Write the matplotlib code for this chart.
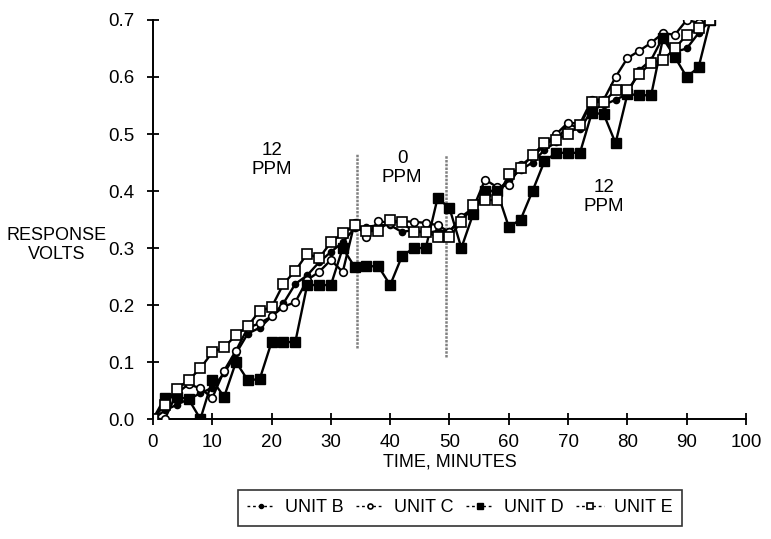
import matplotlib
matplotlib.use("Agg")
import matplotlib.pyplot as plt
from matplotlib.lines import Line2D

plt.rcParams['font.family'] = ['Liberation Sans', 'DejaVu Sans']

time_min = list(range(0, 96, 2))

unit_b = [0, 0.015, 0.025, 0.035, 0.045, 0.055, 0.08, 0.115, 0.15, 0.16,
          0.18, 0.203, 0.237, 0.252, 0.275, 0.293, 0.31, 0.335, 0.337, 0.34,
          0.34, 0.328, 0.332, 0.326, 0.33, 0.33, 0.35, 0.37, 0.40, 0.40,
          0.42, 0.437, 0.45, 0.472, 0.486, 0.519, 0.508, 0.542, 0.551, 0.56,
          0.57, 0.612, 0.63, 0.67, 0.644, 0.65, 0.677, 0.70]
unit_c = [0, 0.0, 0.045, 0.061, 0.054, 0.037, 0.085, 0.12, 0.16, 0.168,
          0.18, 0.197, 0.205, 0.244, 0.258, 0.279, 0.258, 0.344, 0.32, 0.347,
          0.344, 0.347, 0.346, 0.344, 0.34, 0.328, 0.355, 0.37, 0.42, 0.407,
          0.41, 0.445, 0.46, 0.48, 0.50, 0.52, 0.518, 0.56, 0.56, 0.60,
          0.633, 0.646, 0.66, 0.677, 0.674, 0.70, 0.695, 0.70]
unit_d = [0, 0.037, 0.039, 0.035, 0.0, 0.068, 0.039, 0.10, 0.068, 0.07,
          0.135, 0.135, 0.135, 0.235, 0.235, 0.235, 0.30, 0.267, 0.268, 0.268,
          0.235, 0.286, 0.30, 0.30, 0.388, 0.37, 0.30, 0.36, 0.40, 0.40,
          0.337, 0.35, 0.40, 0.452, 0.467, 0.467, 0.467, 0.537, 0.535, 0.484,
          0.57, 0.568, 0.568, 0.668, 0.635, 0.60, 0.617, 0.70]
unit_e = [0, 0.025, 0.053, 0.068, 0.089, 0.117, 0.126, 0.147, 0.163, 0.19,
          0.196, 0.237, 0.26, 0.29, 0.282, 0.31, 0.326, 0.34, 0.33, 0.33,
          0.349, 0.345, 0.328, 0.328, 0.32, 0.32, 0.346, 0.375, 0.384, 0.384,
          0.43, 0.44, 0.463, 0.484, 0.49, 0.50, 0.515, 0.556, 0.556, 0.577,
          0.577, 0.605, 0.625, 0.63, 0.65, 0.674, 0.686, 0.70]

series_names = ["UNIT B", "UNIT C", "UNIT D", "UNIT E"]
x_ticks = list(range(0, 101, 10))
y_ticks = [0.0, 0.1, 0.2, 0.3, 0.4, 0.5, 0.6, 0.7]
switch_times = [34.4, 49.4]
phase_labels = ["12\nPPM", "0\nPPM", "12\nPPM"]
phase_pos = [(20, 0.455), (42, 0.44), (76, 0.39)]

fig = plt.figure(figsize=(7.71, 5.39), dpi=100)
ax = fig.add_axes([0.1984, 0.2226, 0.7692, 0.7403])

styles = [
    dict(marker='o', ms=4.5, mfc='black', mec='black'),
    dict(marker='o', ms=5.5, mfc='white', mec='black', mew=1.2),
    dict(marker='s', ms=7, mfc='black', mec='black'),
    dict(marker='s', ms=7, mfc='white', mec='black', mew=1.2),
]
for ys, st in zip([unit_b, unit_c, unit_d, unit_e], styles):
    ax.plot(time_min, ys, color='black', lw=1.7, zorder=3, **st)

ax.vlines(switch_times[0], 0.125, 0.467, colors='0.5', lw=1.8, linestyles=(0, (1, 0.5)), zorder=2)
ax.vlines(switch_times[1], 0.109, 0.463, colors='0.5', lw=1.8, linestyles=(0, (1, 0.5)), zorder=2)

for lab, (px, py) in zip(phase_labels, phase_pos):
    ax.text(px, py, lab, ha='center', va='center', fontsize=13.5, linespacing=1.15)

ax.set_xlim(0, 100)
ax.set_ylim(0, 0.7)
ax.set_xticks(x_ticks)
ax.set_yticks(y_ticks)
ax.set_yticklabels([f"{v:.1f}" for v in y_ticks])
for s in ['top', 'right']:
    ax.spines[s].set_visible(False)
for s in ['left', 'bottom']:
    ax.spines[s].set_linewidth(1.4)
ax.spines['left'].set_zorder(5)
ax.tick_params(direction='inout', length=9, width=1.3, labelsize=13.5)
ax.tick_params(axis='x', pad=6)
ax.tick_params(axis='y', pad=9)
ax.set_xlabel("TIME, MINUTES", fontsize=13, labelpad=2)

fig.text(57 / 771, 1 - 245 / 539, "RESPONSE\nVOLTS", ha='center', va='center', fontsize=13, linespacing=1.15)

handles = [Line2D([], [], color='black', lw=1.0, ls=(0, (2, 2)), **st) for st in styles]
for h in handles:
    h.set_markersize(h.get_markersize() * 0.65)
leg = fig.legend(handles, series_names, loc='center', bbox_to_anchor=(460 / 771, 1 - 508 / 539),
                 ncol=4, frameon=True, fancybox=False, edgecolor='black', fontsize=13,
                 handlelength=1.5, handletextpad=0.6, columnspacing=0.7, borderpad=0.5)
leg.get_frame().set_linewidth(1.2)

fig.savefig("out.png", dpi=100)
